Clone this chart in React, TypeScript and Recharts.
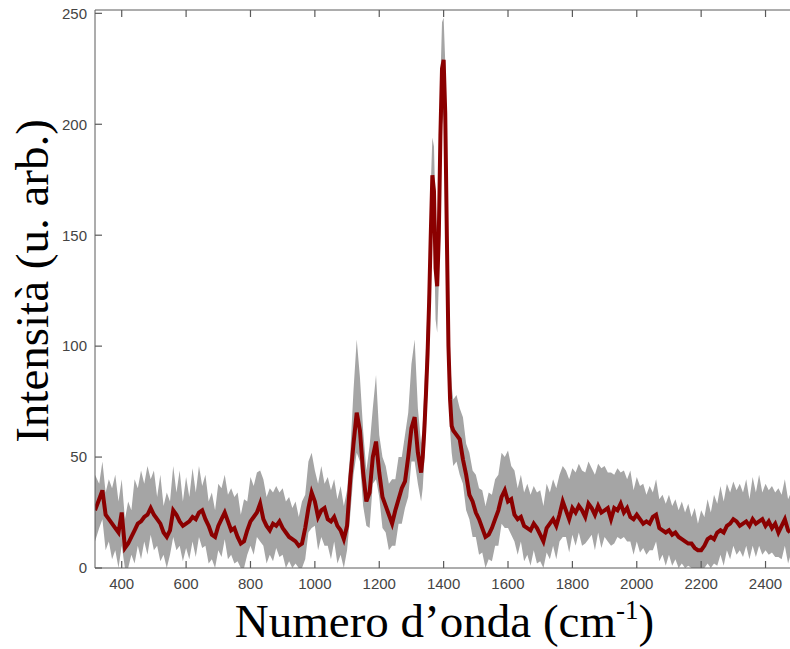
import React from 'react';
import { ComposedChart, Area, Line, XAxis, YAxis, Label } from 'recharts';

// Raman-like spectrum: mean (red) and min/max envelope (grey)
const wavenumbers = [
  317, 330, 340, 350, 360, 370, 380, 390, 400, 410,
  420, 430, 440, 450, 460, 470, 480, 490, 500, 510,
  520, 530, 540, 550, 560, 570, 580, 590, 600, 610,
  620, 630, 640, 650, 660, 670, 680, 690, 700, 710,
  720, 730, 740, 750, 760, 770, 780, 790, 800, 810,
  820, 830, 840, 850, 860, 870, 880, 890, 900, 910,
  920, 930, 940, 950, 960, 970, 980, 990, 1000, 1010,
  1020, 1030, 1040, 1050, 1060, 1070, 1080, 1090, 1100, 1110,
  1120, 1130, 1140, 1150, 1160, 1170, 1180, 1190, 1200, 1210,
  1220, 1230, 1240, 1250, 1260, 1270, 1280, 1290, 1300, 1310,
  1320, 1330, 1335, 1340, 1345, 1350, 1355, 1360, 1365, 1370,
  1375, 1380, 1385, 1390, 1395, 1400, 1405, 1410, 1415, 1420,
  1425, 1430, 1440, 1450, 1460, 1470, 1480, 1490, 1500, 1510,
  1520, 1530, 1540, 1550, 1560, 1570, 1580, 1590, 1600, 1610,
  1620, 1630, 1640, 1650, 1660, 1670, 1680, 1690, 1700, 1710,
  1720, 1730, 1740, 1750, 1760, 1770, 1780, 1790, 1800, 1810,
  1820, 1830, 1840, 1850, 1860, 1870, 1880, 1890, 1900, 1910,
  1920, 1930, 1940, 1950, 1960, 1970, 1980, 1990, 2000, 2010,
  2020, 2030, 2040, 2050, 2060, 2070, 2080, 2090, 2100, 2110,
  2120, 2130, 2140, 2150, 2160, 2170, 2180, 2190, 2200, 2210,
  2220, 2230, 2240, 2250, 2260, 2270, 2280, 2290, 2300, 2310,
  2320, 2330, 2340, 2350, 2360, 2370, 2380, 2390, 2400, 2410,
  2420, 2430, 2440, 2450, 2460, 2470, 2476,
];

const meanIntensity = [
  26, 31, 35, 24, 22, 20, 18, 16, 25, 9,
  11, 14, 17, 20, 21, 23, 24, 27, 24, 22,
  20, 16, 14, 17, 26, 24, 21, 19, 20, 21,
  23, 22, 25, 26, 22, 19, 15, 14, 19, 22,
  25, 21, 17, 18, 14, 11, 12, 17, 21, 23,
  25, 29, 22, 19, 17, 20, 19, 21, 18, 16,
  14, 13, 12, 10, 11, 18, 27, 34, 30, 23,
  26, 27, 22, 21, 23, 19, 17, 13, 19, 40,
  56, 70, 62, 43, 30, 34, 50, 57, 43, 32,
  28, 24, 20, 26, 31, 36, 39, 50, 63, 68,
  52, 43, 50, 62, 78, 96, 120, 150, 177, 170,
  135, 127, 150, 195, 225, 229, 205, 150, 100, 76,
  64, 62, 60, 58, 49, 42, 33, 30, 25, 22,
  18, 14, 15, 18, 22, 26, 32, 35, 30, 31,
  24, 22, 23, 19, 18, 17, 20, 18, 15, 12,
  18, 20, 22, 19, 24, 30, 26, 22, 27, 25,
  28, 26, 23, 29, 27, 24, 28, 25, 26, 27,
  22, 27, 26, 29, 25, 27, 23, 22, 24, 22,
  20, 21, 20, 23, 24, 18, 17, 16, 17, 15,
  16, 14, 13, 12, 11, 11, 9, 8, 8, 10,
  13, 14, 13, 16, 17, 16, 19, 20, 22, 21,
  19, 20, 21, 19, 22, 20, 21, 22, 19, 21,
  18, 20, 16, 19, 22, 17, 16,
];

const bandLow = [
  12, 18, 22, 8, 12, 4, 8, 0, 10, 0,
  0, 6, 2, 10, 4, 12, 6, 15, 8, 10,
  3, 6, 0, 6, 14, 8, 10, 3, 9, 4,
  12, 5, 14, 9, 10, 2, 4, 0, 8, 5,
  13, 4, 6, 2, 3, 0, 0, 6, 10, 6,
  14, 12, 10, 2, 6, 3, 9, 5, 6, 0,
  3, 0, 2, 0, 0, 4, 16, 18, 19, 8,
  14, 10, 10, 4, 12, 2, 6, 0, 8, 24,
  42, 52, 48, 28, 19, 18, 38, 40, 32, 18,
  16, 8, 10, 10, 20, 20, 27, 32, 48, 48,
  38, 30, 36, 48, 62, 80, 104, 130, 156, 148,
  112, 106, 128, 172, 200, 205, 182, 130, 84, 62,
  52, 46, 48, 42, 38, 26, 22, 14, 14, 6,
  7, 0, 4, 3, 10, 10, 20, 18, 18, 15,
  12, 6, 12, 3, 6, 1, 8, 2, 3, 0,
  7, 4, 10, 4, 12, 14, 14, 7, 15, 10,
  16, 10, 11, 13, 15, 8, 16, 9, 14, 12,
  10, 11, 14, 13, 14, 12, 12, 6, 12, 7,
  9, 6, 8, 8, 12, 3, 6, 1, 6, 1,
  4, 0, 2, 0, 1, 0, 0, 0, 0, 0,
  2, 0, 2, 1, 6, 1, 8, 4, 10, 6,
  8, 5, 10, 4, 10, 5, 10, 6, 8, 6,
  7, 5, 5, 4, 10, 2, 5,
];

const bandHigh = [
  42, 38, 48, 34, 40, 36, 42, 30, 40, 22,
  30, 26, 40, 36, 44, 38, 46, 40, 44, 32,
  42, 28, 34, 30, 46, 34, 44, 30, 41, 32,
  45, 34, 46, 37, 42, 30, 34, 26, 38, 36,
  42, 33, 36, 32, 34, 24, 31, 30, 41, 37,
  43, 44, 40, 32, 36, 34, 37, 34, 36, 30,
  32, 27, 30, 23, 30, 33, 48, 52, 44, 38,
  46, 38, 41, 35, 40, 31, 37, 28, 35, 52,
  80, 103, 86, 62, 44, 55, 72, 87, 60, 50,
  46, 38, 40, 40, 50, 50, 60, 70, 92, 103,
  72, 56, 64, 80, 98, 118, 138, 172, 194, 190,
  160, 150, 175, 220, 246, 248, 228, 172, 120, 94,
  82, 76, 78, 72, 68, 56, 52, 44, 42, 36,
  35, 28, 34, 33, 40, 42, 52, 50, 53, 46,
  44, 36, 42, 34, 38, 33, 37, 34, 35, 28,
  38, 34, 40, 36, 42, 46, 44, 40, 45, 43,
  47, 44, 43, 48, 45, 42, 47, 45, 46, 43,
  43, 42, 45, 43, 44, 40, 44, 35, 41, 37,
  38, 33, 37, 34, 40, 31, 33, 29, 33, 28,
  31, 26, 30, 25, 29, 23, 27, 20, 26, 23,
  31, 25, 33, 29, 37, 30, 38, 34, 39, 35,
  38, 34, 40, 31, 41, 34, 42, 34, 38, 35,
  37, 34, 36, 33, 40, 31, 33,
];

const xTicks = [400, 600, 800, 1000, 1200, 1400, 1600, 1800, 2000, 2200, 2400];
const yTicks = [0, 50, 100, 150, 200, 250];

const data = wavenumbers.map((w, i) => ({
  w,
  mean: meanIntensity[i],
  band: [bandLow[i], bandHigh[i]],
}));

const AXIS = '#5a5a5a';
const TICK_TEXT = '#444';
const SANS = "'Liberation Sans', Arial, sans-serif";
const SERIF = "'Liberation Serif', 'Times New Roman', serif";
const tickFont = { fill: TICK_TEXT, fontSize: 15, fontFamily: SANS };

const XTitle = (props: any) => {
  const { x, y, width } = props.viewBox;
  return (
    <text x={x + width / 2 + 2} y={y + 69} textAnchor="middle" fontSize={47} fontFamily={SERIF} fill="#000">
      Numero d’onda (cm<tspan dy={-18} fontSize={27}>-1</tspan>
      <tspan dy={18}>)</tspan>
    </text>
  );
};

const YTitle = (props: any) => {
  const { x, y, height } = props.viewBox;
  const cx = x + 48;
  const cy = y + height / 2 - 8;
  return (
    <text
      x={cx}
      y={cy}
      transform={`rotate(-90, ${cx}, ${cy})`}
      textAnchor="middle"
      fontSize={47}
      fontFamily={SERIF}
      fill="#000"
    >
      Intensità (u. arb.)
    </text>
  );
};

const NoLabel = () => <g />;

export default function App() {
  return (
    <div style={{ position: 'absolute', left: 0, top: 0, background: '#fff' }}>
      <ComposedChart width={790} height={649} data={data} margin={{ top: 0, right: 0, left: 0, bottom: 0 }}>
        <XAxis
          dataKey="w"
          type="number"
          domain={[317, 2476]}
          ticks={xTicks}
          allowDataOverflow
          height={81}
          stroke={AXIS}
          tickLine={{ stroke: AXIS, strokeWidth: 1.2 }}
          tickSize={-7}
          tickMargin={17}
          tick={tickFont}
          interval={0}
        >
          <Label content={<XTitle />} />
        </XAxis>
        <XAxis
          xAxisId="top"
          orientation="top"
          dataKey="w"
          type="number"
          domain={[317, 2476]}
          ticks={xTicks}
          allowDataOverflow
          height={10}
          stroke={AXIS}
          tickLine={{ stroke: AXIS, strokeWidth: 1.2 }}
          tickSize={-7}
          tickMargin={0}
          tick={<NoLabel />}
          interval={0}
        />
        <YAxis
          type="number"
          domain={[0, 251.5]}
          ticks={yTicks}
          allowDataOverflow
          width={95}
          stroke={AXIS}
          tickLine={{ stroke: AXIS, strokeWidth: 1.2 }}
          tickSize={-7}
          tickMargin={15}
          tick={tickFont}
          interval={0}
        >
          <Label content={<YTitle />} />
        </YAxis>
        <Area
          dataKey="band"
          type="linear"
          stroke="none"
          fill="#a5a5a5"
          fillOpacity={1}
          dot={false}
          activeDot={false}
          isAnimationActive={false}
        />
        <Line
          dataKey="mean"
          type="linear"
          stroke="#8b0000"
          strokeWidth={4}
          dot={false}
          activeDot={false}
          isAnimationActive={false}
        />
      </ComposedChart>
    </div>
  );
}
